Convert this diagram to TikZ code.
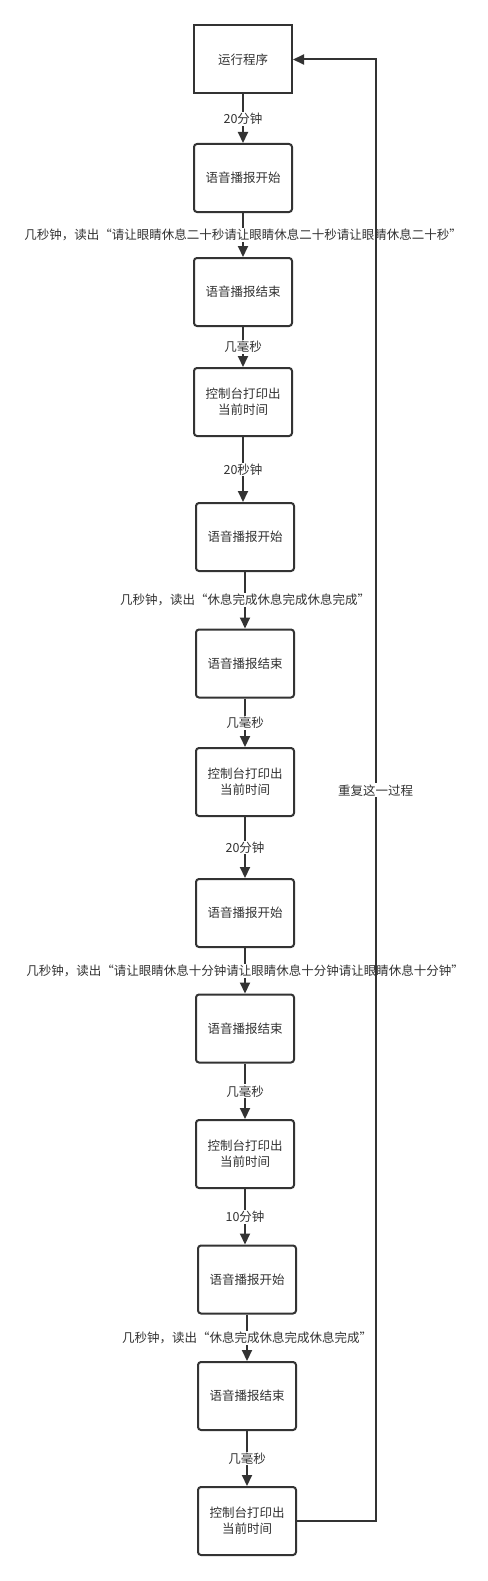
\documentclass[tikz,border=0pt]{standalone}
\usepackage{fontspec}
\setmainfont{Noto Sans CJK SC}
\usetikzlibrary{arrows.meta}
\definecolor{ink}{HTML}{333333}

\begin{document}
\begin{tikzpicture}[x=1pt, y=-1pt,
    box/.style={draw=ink, line width=2pt, rounded corners=3pt,
        minimum width=98pt, minimum height=68pt, inner sep=0pt,
        align=center, text=ink, font=\fontsize{12.5}{16}\selectfont},
    flow/.style={draw=ink, line width=2pt, -{Triangle[width=10pt,length=11pt]}},
    lbl/.style={fill=white, text=ink, inner sep=1pt, font=\fontsize{12.5}{15}\selectfont}]
    \useasboundingbox (0,0) rectangle (487,1581);

    \node[box, sharp corners] (run) at (243,59.5) {运行程序};
    \node[box] (say1)   at (243,178)    {语音播报开始};
    \node[box] (end1)   at (243,292)    {语音播报结束};
    \node[box] (print1) at (243,402)    {控制台打印出\\当前时间};
    \node[box] (say2)   at (245,537)    {语音播报开始};
    \node[box] (end2)   at (245,663.5)  {语音播报结束};
    \node[box] (print2) at (245,782)    {控制台打印出\\当前时间};
    \node[box] (say3)   at (245,913)    {语音播报开始};
    \node[box] (end3)   at (245,1028.5) {语音播报结束};
    \node[box] (print3) at (245,1154)   {控制台打印出\\当前时间};
    \node[box] (say4)   at (247,1279.5) {语音播报开始};
    \node[box] (end4)   at (247,1396)   {语音播报结束};
    \node[box] (print4) at (247,1521)   {控制台打印出\\当前时间};

    \draw[flow] (run.south) -- node[lbl]{20分钟} (run.south |- say1.north);
    \draw[flow] (say1.south) -- node[lbl]{几秒钟，读出“请让眼睛休息二十秒请让眼睛休息二十秒请让眼睛休息二十秒”} (say1.south |- end1.north);
    \draw[flow] (end1.south) -- node[lbl]{几毫秒} (end1.south |- print1.north);
    \draw[flow] (print1.south) -- node[lbl]{20秒钟} (print1.south |- say2.north);
    \draw[flow] (say2.south) -- node[lbl]{几秒钟，读出“休息完成休息完成休息完成”} (say2.south |- end2.north);
    \draw[flow] (end2.south) -- node[lbl]{几毫秒} (end2.south |- print2.north);
    \draw[flow] (print2.south) -- node[lbl]{20分钟} (print2.south |- say3.north);
    \draw[flow] (say3.south) -- node[lbl]{几秒钟，读出“请让眼睛休息十分钟请让眼睛休息十分钟请让眼睛休息十分钟”} (say3.south |- end3.north);
    \draw[flow] (end3.south) -- node[lbl]{几毫秒} (end3.south |- print3.north);
    \draw[flow] (print3.south) -- node[lbl]{10分钟} (print3.south |- say4.north);
    \draw[flow] (say4.south) -- node[lbl]{几秒钟，读出“休息完成休息完成休息完成”} (say4.south |- end4.north);
    \draw[flow] (end4.south) -- node[lbl]{几毫秒} (end4.south |- print4.north);

    % back to the start
    \coordinate (loop) at (375.5,1521);
    \draw[flow] (print4.east) -- (loop) -- node[lbl]{重复这一过程} (loop |- run.east) -- (run.east);
\end{tikzpicture}
\end{document}
